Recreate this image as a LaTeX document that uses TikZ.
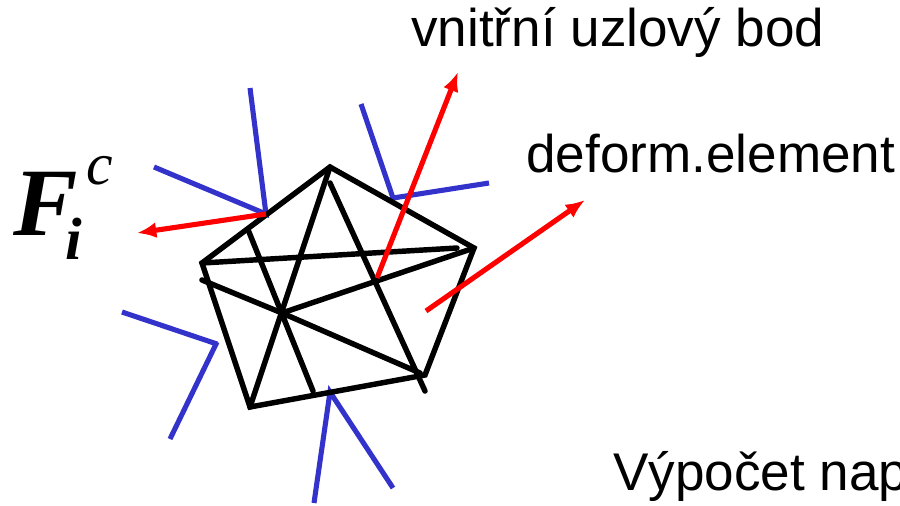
\documentclass[tikz,border=0pt]{standalone}
\usepackage{fontspec}
\setmainfont{Liberation Sans}
\newfontfamily\serifbi[ItalicFont={Liberation Serif Italic},BoldItalicFont={Liberation Serif Bold Italic}]{Liberation Serif}
\usetikzlibrary{arrows.meta, positioning}
\definecolor{loadblue}{RGB}{51,51,204}
\tikzset{
  meshline/.style={line width=3.1pt, black, line cap=round},
  loadline/.style={line width=2.9pt, loadblue},
  forcearrow/.style={-{Latex[length=11pt, width=9pt]}, line width=2.9pt, red},
  caption/.style={anchor=base west, inner sep=0pt, font=\fontsize{30.2}{34}\selectfont}
}
\begin{document}
\begin{tikzpicture}[x=0.02cm, y=-0.02cm]
  \useasboundingbox (0,0) rectangle (900,505);
  % Corners of the element and its inner points
  \coordinate (apex) at (330,167);
  \coordinate (right) at (474,248);
  \coordinate (lowright) at (425,375);
  \coordinate (lowleft) at (250,407);
  \coordinate (left) at (202,263);
  \coordinate (centre) at (282,313);
  \coordinate (inner) at (377,278);
  \coordinate (rightstop) at (457,248);
  \coordinate (leftstart) at (202,280);
  \coordinate (lowstop) at (420,373);
  \coordinate (apexstart) at (330,183);
  \coordinate (lowend) at (425,391);
  \coordinate (edgestart) at (249,232);
  \coordinate (edgeend) at (313,391);
  % Blue outer lines
  \coordinate (loadA) at (266,214);
  \coordinate (loadB) at (393,198);
  \coordinate (loadC) at (217,344);
  \coordinate (loadD) at (330,392);
  \draw[loadline] (250,88) -- (loadA) -- (154,167);
  \draw[loadline] (361,104) -- (loadB) -- (489,183);
  \draw[loadline] (122,312) -- (loadC);
  \draw[loadline] (217,342) -- (170,439);
  \draw[loadline] (314,503) -- (loadD) -- (393,488);
  % Outline of the element
  \draw[meshline, line join=miter] (apex) -- (right) -- (lowright) -- (lowleft) -- (left) -- cycle;
  % Inner lines
  \draw[meshline] (left) -- (rightstop);
  \draw[meshline] (leftstart) -- (centre) -- (lowstop);
  \draw[meshline] (apex) -- (lowleft);
  \draw[meshline] (apexstart) -- (lowend);
  \draw[meshline] (edgestart) -- (edgeend);
  \draw[meshline] (centre) -- (right);
  % Red arrows
  \coordinate (forceend) at (137,233);
  \coordinate (innerend) at (458,72);
  \coordinate (elemstart) at (426,311);
  \coordinate (elemend) at (585,200);
  \draw[forcearrow] (loadA) -- (forceend);
  \draw[forcearrow] (inner) -- (innerend);
  \draw[forcearrow] (elemstart) -- (elemend);
  % Labels
  \node[caption] (innerlabel) at (411,46) {vnitřní uzlový bod};
  \node[caption] (elemlabel) at (526,172) {deform.element};
  \node[caption] (calclabel) at (613,490) {Výpočet nap};
  \node[anchor=base west, inner sep=0pt] (forcelabel) at (13,235) {\serifbi\itshape{\bfseries\fontsize{55}{60}\selectfont F}\kern-6.8pt\fontsize{34}{38}\selectfont\rlap{\raisebox{-14.2pt}{\bfseries i}}\kern11.9pt\raisebox{28.9pt}{c}};
\end{tikzpicture}
\end{document}
